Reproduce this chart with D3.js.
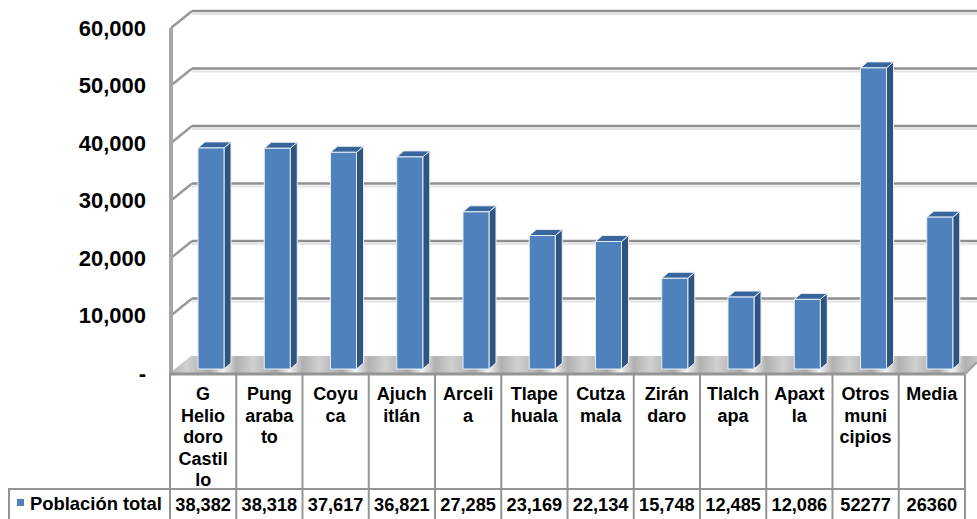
<!DOCTYPE html>
<html>
<head>
<meta charset="utf-8">
<script src="https://cdnjs.cloudflare.com/ajax/libs/d3/7.8.5/d3.min.js"></script>
<style>
  html, body { margin: 0; padding: 0; background: #fff; }
  svg { display: block; }
  text { font-family: "Liberation Sans", Arial, sans-serif; font-weight: bold; fill: #000; }
</style>
</head>
<body>
<svg width="977" height="519"></svg>
<script>
// values
const categories = ["G Heliodoro Castillo", "Pungarabato", "Coyuca", "Ajuchitlán", "Arcelia", "Tlapehuala", "Cutzamala", "Zirándaro", "Tlalchapa", "Apaxtla", "Otros municipios", "Media"];
const categoryLines = [["G", "Helio", "doro", "Castil", "lo"], ["Pung", "araba", "to"], ["Coyu", "ca"], ["Ajuch", "itlán"], ["Arceli", "a"], ["Tlape", "huala"], ["Cutza", "mala"], ["Zirán", "daro"], ["Tlalch", "apa"], ["Apaxt", "la"], ["Otros", "muni", "cipios"], ["Media"]];
const values = [38382, 38318, 37617, 36821, 27285, 23169, 22134, 15748, 12485, 12086, 52277, 26360];
const valueLabels = ["38,382", "38,318", "37,617", "36,821", "27,285", "23,169", "22,134", "15,748", "12,485", "12,086", "52277", "26360"];
const yTicks = [0, 10000, 20000, 30000, 40000, 50000, 60000];
const seriesName = "Población total";

const svg = d3.select("svg");
const W = 977;

// depth of the 3d box
const depthX = 21, depthY = 17;
const barDepthX = 7, barDepthY = 6;

const x = d3.scaleBand().domain(categories).range([170, 965]);
const y = d3.scaleLinear().domain([0, 60000]).range([373, 28]);      // front edge of the wall
const yBar = d3.scaleLinear().domain([0, 60000]).range([369, 23.4]); // bars stand inside the floor

const defs = svg.append("defs");
const floorGrad = defs.append("linearGradient")
  .attr("id", "floor")
  .attr("gradientUnits", "userSpaceOnUse")
  .attr("x1", 170).attr("x2", 170 + x.bandwidth())
  .attr("y1", 0).attr("y2", 0)
  .attr("spreadMethod", "repeat");
floorGrad.append("stop").attr("offset", "0%").attr("stop-color", "#b0b0b0");
floorGrad.append("stop").attr("offset", "25%").attr("stop-color", "#d0d0d0");
floorGrad.append("stop").attr("offset", "60%").attr("stop-color", "#a8a8a8");
floorGrad.append("stop").attr("offset", "80%").attr("stop-color", "#f4f4f4");
floorGrad.append("stop").attr("offset", "100%").attr("stop-color", "#b0b0b0");

// back wall gridlines with their soft shadow
const grid = svg.append("g");
grid.selectAll("line.shadow")
  .data(yTicks.slice(1))
  .enter().append("line")
  .attr("class", "shadow")
  .attr("x1", 171 + depthX).attr("x2", W)
  .attr("y1", d => y(d) - depthY + 3).attr("y2", d => y(d) - depthY + 3)
  .attr("stroke", "#e4e4e4").attr("stroke-width", 2);
grid.selectAll("line.main")
  .data(yTicks.slice(1))
  .enter().append("line")
  .attr("class", "main")
  .attr("x1", 171 + depthX).attr("x2", W)
  .attr("y1", d => y(d) - depthY).attr("y2", d => y(d) - depthY)
  .attr("stroke", "#8f8f8f").attr("stroke-width", 2.5);

// diagonals on the left wall
grid.selectAll("line.diag")
  .data(yTicks.slice(1))
  .enter().append("line")
  .attr("class", "diag")
  .attr("x1", 171).attr("x2", 171 + depthX)
  .attr("y1", d => y(d)).attr("y2", d => y(d) - depthY)
  .attr("stroke", "#9a9a9a").attr("stroke-width", 2.5);

// floor
svg.append("path")
  .attr("d", d3.line()([[170, y(0)], [170 + depthX, y(0) - depthY], [W, y(0) - depthY], [W, y(0) - 12], [965, y(0)]]) + "Z")
  .attr("fill", "url(#floor)");

// left wall and front edge
svg.append("line")
  .attr("x1", 171).attr("x2", 171)
  .attr("y1", y(60000)).attr("y2", y(0))
  .attr("stroke", "#a6a6a6").attr("stroke-width", 4);
svg.append("line")
  .attr("x1", 169).attr("x2", 965)
  .attr("y1", y(0) + 1).attr("y2", y(0) + 1)
  .attr("stroke", "#949494").attr("stroke-width", 3);
svg.append("line")
  .attr("x1", 965).attr("x2", W)
  .attr("y1", y(0) + 1).attr("y2", y(0) - 11)
  .attr("stroke", "#a6a6a6").attr("stroke-width", 2.5);

// bars
const barW = 26, barOff = 28;
const bars = svg.append("g").selectAll("g")
  .data(categories.map((c, i) => ({ c: c, v: values[i] })))
  .enter().append("g")
  .attr("stroke", "#e6edf6").attr("stroke-width", 1).attr("stroke-linejoin", "round");

// right side
bars.append("path")
  .attr("fill", "#2f5480")
  .attr("d", d => {
    const x0 = x(d.c) + barOff + barW, t = yBar(d.v), b = yBar(0);
    return d3.line()([[x0, t], [x0 + barDepthX, t - barDepthY], [x0 + barDepthX, b - barDepthY], [x0, b]]) + "Z";
  });
// top
bars.append("path")
  .attr("fill", "#38659b")
  .attr("d", d => {
    const x0 = x(d.c) + barOff, t = yBar(d.v);
    return d3.line()([[x0, t], [x0 + barDepthX, t - barDepthY], [x0 + barW + barDepthX, t - barDepthY], [x0 + barW, t]]) + "Z";
  });
// front
bars.append("rect")
  .attr("x", d => x(d.c) + barOff)
  .attr("y", d => yBar(d.v))
  .attr("width", barW)
  .attr("height", d => yBar(0) - yBar(d.v))
  .attr("fill", "#4f81bd");

// y axis labels
svg.append("g").selectAll("text")
  .data(yTicks)
  .enter().append("text")
  .attr("x", 146)
  .attr("y", d => y(d))
  .attr("dy", "0.35em")
  .attr("text-anchor", "end")
  .attr("font-size", 22)
  .text(d => d === 0 ? "-" : d3.format(",")(d));

// data table
const table = svg.append("g").attr("stroke", "#949494").attr("stroke-width", 2);
table.selectAll("line.v")
  .data(categories)
  .enter().append("line")
  .attr("class", "v")
  .attr("x1", d => x(d)).attr("x2", d => x(d))
  .attr("y1", 375).attr("y2", 519);
table.append("line").attr("x1", 965).attr("x2", 965).attr("y1", 375).attr("y2", 519);
table.append("line").attr("x1", 9).attr("x2", 9).attr("y1", 489).attr("y2", 519);
table.append("line").attr("x1", 8).attr("x2", 966).attr("y1", 489).attr("y2", 489);

// category labels, broken the way the cells wrap them
const catText = svg.append("g").selectAll("text")
  .data(categories)
  .enter().append("text")
  .attr("text-anchor", "middle")
  .attr("font-size", 18);
catText.selectAll("tspan")
  .data((d, i) => categoryLines[i].map((l, j) => ({ l: l, j: j, c: d })))
  .enter().append("tspan")
  .attr("x", d => x(d.c) + x.bandwidth() / 2)
  .attr("y", d => 400 + d.j * 21.5)
  .text(d => d.l);

// value row
svg.append("g").selectAll("text")
  .data(categories)
  .enter().append("text")
  .attr("x", d => x(d) + x.bandwidth() / 2)
  .attr("y", 511)
  .attr("text-anchor", "middle")
  .attr("font-size", 18.2)
  .text((d, i) => valueLabels[i]);

// legend key
svg.append("rect")
  .attr("x", 17).attr("y", 499)
  .attr("width", 7).attr("height", 7)
  .attr("fill", "#4f81bd");
svg.append("text")
  .attr("x", 30).attr("y", 510)
  .attr("font-size", 18.4)
  .text(seriesName);
</script>
</body>
</html>
